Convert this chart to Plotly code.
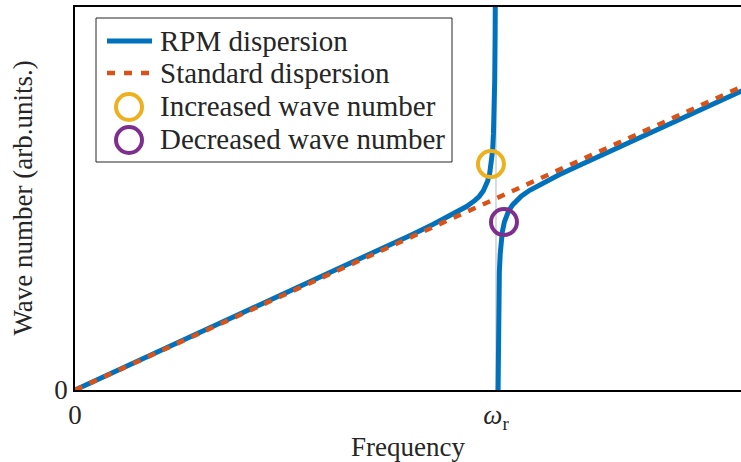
import plotly.graph_objects as go

# Resonance frequency (normalised) and axis extents
omega_r = 1.0
x_max = 1.582
y_max = 2.0

# RPM dispersion, branch below the resonance
omega_low = [0.0, 0.2, 0.4, 0.6, 0.7, 0.8, 0.85, 0.9, 0.93, 0.95, 0.96, 0.97,
             0.975, 0.98, 0.985, 0.988, 0.99, 0.992, 0.994, 0.995, 0.996,
             0.997, 0.998, 0.9985]
k_low = [0.0, 0.201, 0.402, 0.605, 0.707, 0.811, 0.864, 0.921, 0.958, 0.99,
         1.01, 1.04, 1.062, 1.09, 1.13, 1.17, 1.205, 1.25, 1.34, 1.40, 1.49,
         1.62, 1.86, 2.08]

# RPM dispersion, branch above the resonance
omega_high = [1.00499, 1.0052, 1.0055, 1.006, 1.007, 1.008, 1.01, 1.0125,
              1.015, 1.02, 1.025, 1.03, 1.04, 1.05, 1.06, 1.08, 1.1, 1.15,
              1.2, 1.3, 1.4, 1.5, 1.6]
k_high = [0.0, 0.15, 0.30, 0.41, 0.535, 0.615, 0.71, 0.78, 0.825, 0.878,
          0.91, 0.935, 0.968, 0.993, 1.012, 1.043, 1.068, 1.124, 1.175,
          1.275, 1.375, 1.476, 1.578]

# Standard (linear) dispersion
omega_std = [0.0, 1.6]
k_std = [0.0, 1.6]

# Highlighted points
omega_inc, k_inc = [0.988], [1.18]
omega_dec, k_dec = [1.019], [0.877]

# Tick labels
x_tickvals = [0, omega_r]
x_ticktext = ["0", "<i>ω</i><sub>r</sub>"]
y_tickvals = [0]
y_ticktext = ["0"]

# Axis titles and legend entries
x_title = "Frequency"
y_title = "Wave number (arb.units.)"
legend_labels = ["RPM dispersion", "Standard dispersion",
                 "Increased wave number", "Decreased wave number"]

BLUE = "#0072BD"
ORANGE = "#D95319"
YELLOW = "#EDB120"
PURPLE = "#7E2F8E"
INK = "#262626"
FONT = "Liberation Serif"

W, H = 741, 462
M_L, M_R, M_T, M_B = 75, 0, 7, 72
PLOT_W = W - M_L - M_R
PLOT_H = H - M_T - M_B


def px_x(px):
    """Horizontal pixel position -> paper coordinate."""
    return (px - M_L) / PLOT_W


def px_y(py):
    """Vertical pixel position (from top) -> paper coordinate."""
    return (H - M_B - py) / PLOT_H


fig = go.Figure()

# thin resonance guide line
fig.add_trace(go.Scatter(
    x=[omega_r, omega_r], y=[0, y_max], mode="lines",
    line=dict(color="#B8B8B8", width=1), showlegend=False, hoverinfo="skip"))

fig.add_trace(go.Scatter(
    x=omega_low + [None] + omega_high, y=k_low + [None] + k_high,
    mode="lines", name=legend_labels[0], connectgaps=False,
    line=dict(color=BLUE, width=5), showlegend=False))

fig.add_trace(go.Scatter(
    x=omega_std, y=k_std, mode="lines", name=legend_labels[1],
    line=dict(color=ORANGE, width=4.5, dash="8px,8px"), showlegend=False))

fig.add_trace(go.Scatter(
    x=omega_inc, y=k_inc, mode="markers", name=legend_labels[2],
    marker=dict(symbol="circle-open", size=26, color=YELLOW,
                line=dict(color=YELLOW, width=4)), showlegend=False))

fig.add_trace(go.Scatter(
    x=omega_dec, y=k_dec, mode="markers", name=legend_labels[3],
    marker=dict(symbol="circle-open", size=26, color=PURPLE,
                line=dict(color=PURPLE, width=4)), showlegend=False))

# Legend box drawn with shapes and annotations
shapes = [
    dict(type="rect", xref="paper", yref="paper",
         x0=px_x(96), x1=px_x(452), y0=px_y(162), y1=px_y(18),
         line=dict(color=INK, width=1), fillcolor="white", layer="above"),
    dict(type="line", xref="paper", yref="paper",
         x0=px_x(107), x1=px_x(152), y0=px_y(41), y1=px_y(41),
         line=dict(color=BLUE, width=5), layer="above"),
    dict(type="line", xref="paper", yref="paper",
         x0=px_x(107), x1=px_x(150), y0=px_y(73), y1=px_y(73),
         line=dict(color=ORANGE, width=4.5, dash="8px,9px"), layer="above"),
]
for cy, col in [(107, YELLOW), (140, PURPLE)]:
    shapes.append(dict(
        type="circle", xref="paper", yref="paper",
        xsizemode="pixel", ysizemode="pixel",
        xanchor=px_x(129), yanchor=px_y(cy),
        x0=-13, x1=13, y0=-13, y1=13,
        line=dict(color=col, width=4), fillcolor="rgba(0,0,0,0)",
        layer="above"))

annotations = []
for label, cy in zip(legend_labels, [41, 73, 106, 139]):
    annotations.append(dict(
        text=label, xref="paper", yref="paper",
        x=px_x(158), y=px_y(cy), xanchor="left", yanchor="middle",
        showarrow=False, font=dict(family=FONT, size=29, color=INK)))

# vertical axis title
annotations.append(dict(
    text=y_title, xref="paper", yref="paper",
    x=px_x(22), y=0.5, xanchor="center", yanchor="middle",
    textangle=-90, showarrow=False,
    font=dict(family=FONT, size=27, color=INK)))

fig.update_layout(
    width=W, height=H,
    margin=dict(l=M_L, r=M_R, t=M_T, b=M_B),
    paper_bgcolor="white", plot_bgcolor="white",
    font=dict(family=FONT, size=27, color=INK),
    showlegend=False,
    shapes=shapes,
    annotations=annotations,
    xaxis=dict(
        range=[0, x_max], tickmode="array", tickvals=x_tickvals,
        ticktext=x_ticktext, showgrid=False, zeroline=False,
        showline=True, linecolor="black", linewidth=1.5, mirror=True,
        ticks="", tickfont=dict(size=27),
        title=dict(text=x_title, standoff=6, font=dict(size=27)),
    ),
    yaxis=dict(
        range=[0, y_max], tickmode="array", tickvals=y_tickvals,
        ticktext=y_ticktext, showgrid=False, zeroline=False,
        showline=True, linecolor="black", linewidth=1.5,
        ticks="", tickfont=dict(size=27),
    ),
)

fig.write_html("out.html")
